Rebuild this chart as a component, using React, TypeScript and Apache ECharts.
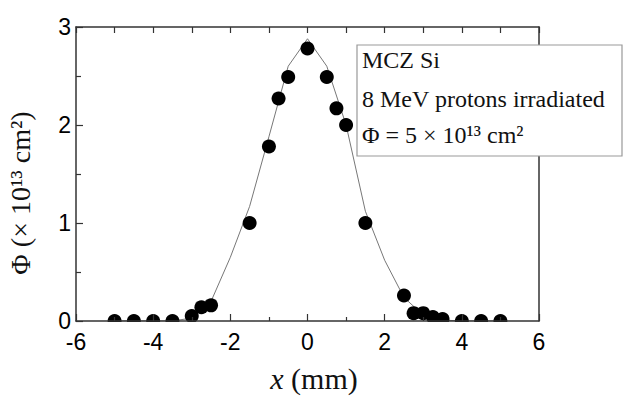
import React, { useEffect, useRef } from "react";
import * as echarts from "echarts";

// Measured fluence profile across the beam spot
const posX: number[] = [-5, -4.5, -4, -3.5, -3, -2.75, -2.5, -1.5, -1, -0.75, -0.5, 0, 0.5, 0.75, 1, 1.5, 2.5, 2.75, 3, 3.25, 3.5, 4, 4.5, 5];
const fluence: number[] = [0, 0, 0, 0, 0.05, 0.14, 0.16, 1.0, 1.78, 2.27, 2.49, 2.78, 2.49, 2.17, 2.0, 1.0, 0.26, 0.08, 0.08, 0.04, 0.02, 0, 0, 0];

// Fitted profile curve
const fitX: number[] = [-5, -4.5, -4, -3.5, -3, -2.5, -2, -1.5, -1, -0.5, 0, 0.5, 1, 1.5, 2, 2.5, 3, 3.5, 4, 4.5, 5];
const fitY: number[] = [0, 0, 0, 0, 0.03, 0.2, 0.65, 1.17, 1.88, 2.6, 2.88, 2.6, 2.0, 1.12, 0.62, 0.24, 0.06, 0.01, 0, 0, 0];

const legendLines: string[] = ["MCZ Si", "8 MeV protons irradiated", "Φ = 5 × 10¹³ cm²"];

const SANS = "'Liberation Sans', Arial, sans-serif";
const SERIF = "'Liberation Serif', 'Times New Roman', serif";

export default function App() {
  const ref = useRef<HTMLDivElement>(null);

  useEffect(() => {
    if (!ref.current) return;
    const chart = echarts.init(ref.current, undefined, { renderer: "svg" });
    const axisLine = { show: true, onZero: false, lineStyle: { color: "#333", width: 1.5 } };
    const left = 76, top = 27, right = 84, bottom = 75;

    chart.setOption({
      animation: false,
      backgroundColor: "#fff",
      grid: { left, right, top, bottom },
      xAxis: [
        {
          type: "value",
          min: -6,
          max: 6,
          interval: 2,
          z: 10,
          axisLine,
          axisTick: { show: true, inside: true, length: 7, lineStyle: { color: "#333", width: 1.2 } },
          minorTick: { show: true, splitNumber: 2, length: 4, lineStyle: { color: "#333", width: 1.2 } },
          splitLine: { show: false },
          axisLabel: { fontSize: 23, fontFamily: SANS, color: "#000", margin: 9 },
        },
        {
          type: "value",
          position: "top",
          min: -6,
          max: 6,
          interval: 1,
          axisLine,
          axisTick: { show: true, inside: true, length: 6, lineStyle: { color: "#333", width: 1.2 } },
          axisLabel: { show: false },
          splitLine: { show: false },
        },
      ],
      yAxis: [
        {
          type: "value",
          min: 0,
          max: 3,
          interval: 1,
          z: 10,
          axisLine,
          axisTick: { show: true, inside: true, length: 7, lineStyle: { color: "#333", width: 1.2 } },
          minorTick: { show: true, splitNumber: 2, length: 5, lineStyle: { color: "#333", width: 1.2 } },
          splitLine: { show: false },
          axisLabel: { fontSize: 23, fontFamily: SANS, color: "#000", margin: 5 },
        },
        {
          type: "value",
          position: "right",
          min: 0,
          max: 3,
          axisLine,
          axisTick: { show: false },
          axisLabel: { show: false },
          splitLine: { show: false },
        },
      ],
      series: [
        {
          type: "line",
          data: fitX.map((x, i) => [x, fitY[i]]),
          showSymbol: false,
          symbol: "none",
          lineStyle: { color: "#777", width: 1 },
          z: 2,
        },
        {
          type: "scatter",
          data: posX.map((x, i) => [x, fluence[i]]),
          symbol: "circle",
          symbolSize: 14,
          itemStyle: { color: "#000", opacity: 1 },
          z: 3,
        },
      ],
      graphic: [
        // hides the part of the markers that falls below the x axis
        { type: "rect", shape: { x: left + 1, y: 322, width: 623 - left - right - 2, height: 9 }, style: { fill: "#fff" }, z: 5 },
        {
          type: "rect",
          shape: { x: 357, y: 45, width: 265, height: 111 },
          style: { fill: "#fff", stroke: "#999", lineWidth: 1.2 },
          z: 20,
        },
        ...legendLines.map((t, i) => ({
          type: "text",
          x: 362,
          y: [72, 111, 147][i],
          z: 21,
          style: { text: t, font: `24px ${SERIF}`, fill: "#111", textVerticalAlign: "bottom" },
        })),
        {
          type: "text",
          x: 20,
          y: 193,
          rotation: Math.PI / 2,
          style: { text: "Φ (× 10¹³ cm²)", font: `28px ${SERIF}`, fill: "#111", textAlign: "center", textVerticalAlign: "middle" },
        },
        {
          type: "text",
          x: 314,
          y: 378,
          style: {
            text: "{i|x} (mm)",
            font: `30px ${SERIF}`,
            fill: "#111",
            textAlign: "center",
            textVerticalAlign: "middle",
            rich: { i: { fontStyle: "italic", fontSize: 30, fontFamily: SERIF } },
          },
        },
      ],
    });
    return () => chart.dispose();
  }, []);

  return <div ref={ref} style={{ position: "fixed", left: 0, top: 0, width: 623, height: 396 }} />;
}
